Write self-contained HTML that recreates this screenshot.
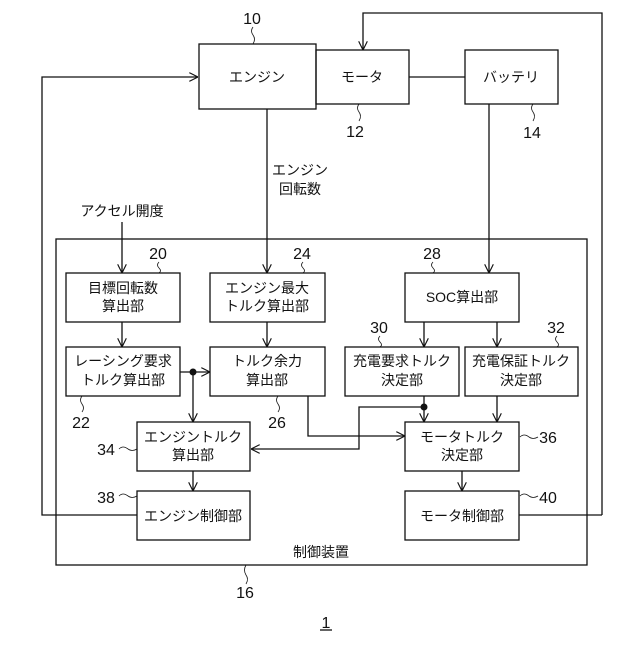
<!DOCTYPE html>
<html><head><meta charset="utf-8"><style>
html,body{margin:0;padding:0;background:#fff;}
svg text{font-family:"Liberation Sans","Noto Sans CJK JP",sans-serif;fill:#111;}
</style></head><body>
<svg width="640" height="640" viewBox="0 0 640 640" xmlns="http://www.w3.org/2000/svg">
<defs>
<marker id="a" viewBox="0 0 10 10" refX="10" refY="5" markerWidth="9" markerHeight="9" orient="auto" markerUnits="userSpaceOnUse">
<path d="M0,0 L10,5 L0,10" fill="none" stroke="#111" stroke-width="1.3"/>
</marker>
</defs>
<g fill="none" stroke="#111" stroke-width="1.3">
<rect x="199" y="44" width="117" height="65"/>
<rect x="316" y="50" width="93" height="54"/>
<rect x="465" y="50" width="93" height="54"/>
<rect x="56" y="239" width="531" height="326"/>
<rect x="66" y="273" width="114" height="49"/>
<rect x="210" y="273" width="115" height="49"/>
<rect x="405" y="273" width="114" height="49"/>
<rect x="66" y="347" width="114" height="49"/>
<rect x="210" y="347" width="115" height="49"/>
<rect x="345" y="347" width="114" height="49"/>
<rect x="465" y="347" width="113" height="49"/>
<rect x="137" y="422" width="113" height="49"/>
<rect x="405" y="422" width="114" height="49"/>
<rect x="137" y="491" width="113" height="49"/>
<rect x="405" y="491" width="114" height="49"/>
<line x1="409" y1="77" x2="465" y2="77"/>
<polyline points="602,515 602,13 363,13 363,50" marker-end="url(#a)"/>
<line x1="519" y1="515" x2="602" y2="515"/>
<polyline points="137,515 42,515 42,77 198,77" marker-end="url(#a)"/>
<line x1="267" y1="109" x2="267" y2="273" marker-end="url(#a)"/>
<line x1="489" y1="104" x2="489" y2="273" marker-end="url(#a)"/>
<line x1="122" y1="222" x2="122" y2="273" marker-end="url(#a)"/>
<line x1="122" y1="322" x2="122" y2="347" marker-end="url(#a)"/>
<line x1="267" y1="322" x2="267" y2="347" marker-end="url(#a)"/>
<line x1="424" y1="322" x2="424" y2="347" marker-end="url(#a)"/>
<line x1="497" y1="322" x2="497" y2="347" marker-end="url(#a)"/>
<line x1="497" y1="396" x2="497" y2="422" marker-end="url(#a)"/>
<line x1="424" y1="396" x2="424" y2="422" marker-end="url(#a)"/>
<polyline points="424,407 359,407 359,449 251,449" marker-end="url(#a)"/>
<line x1="180" y1="372" x2="210" y2="372" marker-end="url(#a)"/>
<line x1="193" y1="372" x2="193" y2="422" marker-end="url(#a)"/>
<polyline points="308,396 308,436 405,436" marker-end="url(#a)"/>
<line x1="193" y1="471" x2="193" y2="491" marker-end="url(#a)"/>
<line x1="462" y1="471" x2="462" y2="491" marker-end="url(#a)"/>
<path d="M253,27 q-3,4 0,8 q3,4 0,9" stroke-width="0.8"/>
<path d="M359,104 q-3,4 0,8 q3,4 0,9" stroke-width="0.8"/>
<path d="M533,104 q-3,4 0,8 q3,4 0,9" stroke-width="0.8"/>
<path d="M159,262 q-3,3 0,6 q3,3 0,5" stroke-width="0.8"/>
<path d="M303,262 q-3,3 0,6 q3,3 0,5" stroke-width="0.8"/>
<path d="M433,262 q-3,3 0,6 q3,3 0,5" stroke-width="0.8"/>
<path d="M380,336 q-3,3 0,6 q3,3 0,5" stroke-width="0.8"/>
<path d="M557,336 q-3,3 0,6 q3,3 0,5" stroke-width="0.8"/>
<path d="M82,396 q-3,4 0,8 q3,4 0,8" stroke-width="0.8"/>
<path d="M278,396 q-3,4 0,8 q3,4 0,8" stroke-width="0.8"/>
<path d="M246,565 q-3,5 0,10 q3,4 0,9" stroke-width="0.8"/>
<path d="M119,449 q4,-4 9,0 q4,3 9,0" stroke-width="0.8"/>
<path d="M119,496 q4,-4 9,0 q4,3 9,0" stroke-width="0.8"/>
<path d="M520,437 q4,-4 9,0 q4,3 9,0" stroke-width="0.8"/>
<path d="M520,496 q4,-4 9,0 q4,3 9,0" stroke-width="0.8"/>
<line x1="320" y1="630" x2="332" y2="630"/>
</g>
<circle cx="193" cy="372" r="3.5" fill="#111"/>
<circle cx="424" cy="407" r="3.5" fill="#111"/>
<g font-size="14" text-anchor="middle">
<text x="257" y="82">エンジン</text>
<text x="362" y="82">モータ</text>
<text x="511" y="82">バッテリ</text>
<text x="300" y="175">エンジン</text>
<text x="300" y="194">回転数</text>
<text x="122" y="216">アクセル開度</text>
<text x="123" y="293">目標回転数</text>
<text x="123" y="311">算出部</text>
<text x="267" y="293">エンジン最大</text>
<text x="267" y="311">トルク算出部</text>
<text x="462" y="302">SOC算出部</text>
<text x="123" y="366">レーシング要求</text>
<text x="123" y="385">トルク算出部</text>
<text x="267" y="366">トルク余力</text>
<text x="267" y="385">算出部</text>
<text x="402" y="366">充電要求トルク</text>
<text x="402" y="385">決定部</text>
<text x="521" y="366">充電保証トルク</text>
<text x="521" y="385">決定部</text>
<text x="193" y="442">エンジントルク</text>
<text x="193" y="460">算出部</text>
<text x="462" y="442">モータトルク</text>
<text x="462" y="460">決定部</text>
<text x="193" y="521">エンジン制御部</text>
<text x="462" y="521">モータ制御部</text>
<text x="321" y="557">制御装置</text>
</g>
<g font-size="16" text-anchor="middle">
<text x="252" y="24">10</text>
<text x="355" y="137">12</text>
<text x="532" y="138">14</text>
<text x="158" y="259">20</text>
<text x="302" y="259">24</text>
<text x="432" y="259">28</text>
<text x="379" y="333">30</text>
<text x="556" y="333">32</text>
<text x="81" y="428">22</text>
<text x="277" y="428">26</text>
<text x="106" y="455">34</text>
<text x="548" y="443">36</text>
<text x="106" y="503">38</text>
<text x="548" y="503">40</text>
<text x="245" y="598">16</text>
<text x="326" y="628">1</text>
</g>
</svg>
</body></html>
